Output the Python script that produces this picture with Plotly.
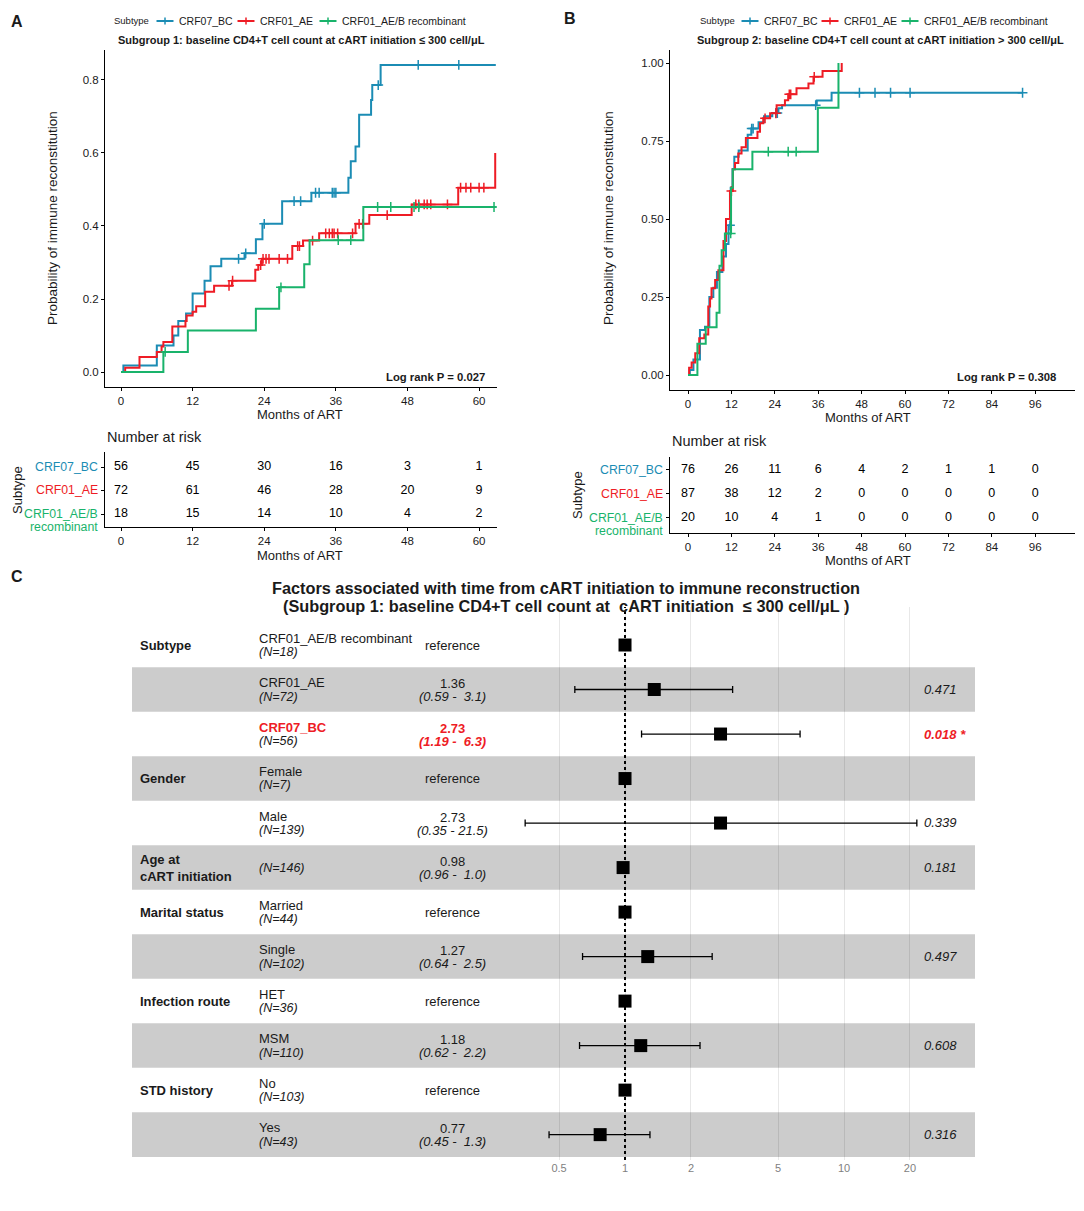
import numpy as np
import plotly.graph_objects as go

# the page adds an 8px body margin, so the figure is a bit smaller than the window
W, H = 1068, 1195
OFF = 8
FONT = 'Liberation Sans, Arial, sans-serif'
BLUE = '#1b8cb4'
RED = '#ee1c25'
GREEN = '#19b36b'

subtypes = ['CRF07_BC', 'CRF01_AE', 'CRF01_AE/B recombinant']
sub_colors = [BLUE, RED, GREEN]

# ---- panel A: subgroup 1 (<= 300 cells), cumulative probability
a_bc_t = [0, 0.4, 6.0, 8.8, 9.6, 10.9, 12.0, 14.0, 15.0, 16.8, 20.7, 22.6, 23.7, 27.0, 31.9,
          38.1, 38.5, 39.3, 39.9, 41.9, 42.1, 43.5, 62.8]
a_bc_p = [0, 0.018, 0.073, 0.10, 0.14, 0.16, 0.215, 0.25, 0.29, 0.31, 0.325, 0.364, 0.406, 0.468, 0.491,
          0.532, 0.577, 0.618, 0.705, 0.745, 0.786, 0.841, 0.841]
a_bc_cens = [19.7, 20.9, 24.0, 29.0, 30.1, 32.6, 33.2, 35.4, 35.7, 36.0, 43.1, 49.8, 56.6]

a_ae_t = [0, 0.7, 3.1, 6.0, 6.8, 7.1, 8.6, 10.8, 11.0, 12.0, 12.6, 14.1, 15.6, 18.6, 22.5, 23.0, 23.6,
          28.7, 30.5, 33.2, 39.3, 41.6, 48.7, 56.5, 62.7]
a_ae_p = [0, 0.012, 0.041, 0.055, 0.07, 0.082, 0.125, 0.14, 0.155, 0.165, 0.18, 0.22, 0.236, 0.25, 0.28,
          0.293, 0.31, 0.345, 0.36, 0.38, 0.406, 0.43, 0.459, 0.505, 0.60]
a_ae_cens = [18.1, 18.7, 23.4, 23.8, 24.3, 24.8, 26.5, 27.9, 29.6, 29.9, 32.1, 34.3, 34.9, 35.4, 35.7,
             36.3, 38.8, 39.9, 40.5, 44.6, 49.4, 49.9, 50.8, 51.3, 51.9, 54.7, 56.9, 57.8, 58.6, 60.0, 60.8]

a_aeb_t = [0, 7.1, 11.2, 22.6, 26.5, 30.7, 31.6, 40.6, 62.8]
a_aeb_p = [0, 0.055, 0.114, 0.173, 0.232, 0.295, 0.361, 0.452, 0.452]
a_aeb_cens = [7.4, 26.8, 36.4, 38.5, 43.0, 45.2, 49.1, 49.9, 62.5]

# ---- panel B: subgroup 2 (> 300 cells)
b_bc_t = [0, 0.5, 1.5, 3.3, 4.7, 5.9, 7.0, 8.0, 9.5, 10.5, 11.2, 11.8, 12.3, 12.8, 14.0, 16.5, 17.5,
          19.5, 21.0, 23.3, 25.0, 26.0, 35.6, 39.7, 92.5]
b_bc_p = [0, 0.016, 0.05, 0.144, 0.155, 0.25, 0.28, 0.33, 0.38, 0.42, 0.48, 0.60, 0.66, 0.70, 0.72, 0.77,
          0.79, 0.81, 0.83, 0.84, 0.855, 0.865, 0.88, 0.905, 0.905]
b_bc_cens = [11.6, 17.6, 18.0, 24.3, 24.7, 35.3, 47.4, 51.7, 56.0, 61.4, 92.5]

b_ae_t = [0, 0.3, 1.0, 2.0, 3.1, 4.5, 5.6, 6.1, 6.5, 7.5, 8.4, 9.8, 10.5, 11.6, 12.4, 13.0, 13.9, 14.8,
          16.0, 19.2, 19.9, 20.8, 22.7, 24.5, 26.8, 27.7, 30.0, 33.3, 34.7, 37.2, 42.5]
b_ae_p = [0, 0.023, 0.04, 0.07, 0.118, 0.13, 0.22, 0.245, 0.278, 0.305, 0.336, 0.43, 0.50, 0.59, 0.66,
          0.68, 0.71, 0.73, 0.76, 0.78, 0.807, 0.823, 0.839, 0.865, 0.881, 0.90, 0.919, 0.935, 0.956,
          0.975, 1.0]
b_ae_cens = [12.0, 21.3, 24.3, 28.0, 28.4, 34.9]

b_aeb_t = [0, 2.6, 4.9, 7.9, 8.7, 9.3, 10.2, 11.9, 12.4, 17.8, 35.9, 41.6]
b_aeb_p = [0, 0.10, 0.153, 0.20, 0.35, 0.40, 0.454, 0.60, 0.66, 0.716, 0.857, 1.0]
b_aeb_cens = [11.8, 22.2, 27.7, 29.9]

# ---- number at risk
a_risk_times = [0, 12, 24, 36, 48, 60]
a_risk = [[56, 45, 30, 16, 3, 1], [72, 61, 46, 28, 20, 9], [18, 15, 14, 10, 4, 2]]
b_risk_times = [0, 12, 24, 36, 48, 60, 72, 84, 96]
b_risk = [[76, 26, 11, 6, 4, 2, 1, 1, 0], [87, 38, 12, 2, 0, 0, 0, 0, 0], [20, 10, 4, 1, 0, 0, 0, 0, 0]]

# ---- forest plot (panel C)
fp_vars = ['Subtype', '', '', 'Gender', '', 'Age at<br>cART initiation', 'Marital status', '',
           'Infection route', '', 'STD history', '']
fp_levels = ['CRF01_AE/B recombinant', 'CRF01_AE', 'CRF07_BC', 'Female', 'Male', '', 'Married', 'Single',
             'HET', 'MSM', 'No', 'Yes']
fp_n = [18, 72, 56, 7, 139, 146, 44, 102, 36, 110, 103, 43]
fp_hr = [1, 1.36, 2.73, 1, 2.73, 0.98, 1, 1.27, 1, 1.18, 1, 0.77]
fp_lo = [None, 0.59, 1.19, None, 0.35, 0.96, None, 0.64, None, 0.62, None, 0.45]
fp_hi = [None, 3.1, 6.3, None, 21.5, 1.0, None, 2.5, None, 2.2, None, 1.3]
fp_p = ['', '0.471', '0.018 *', '', '0.339', '0.181', '', '0.497', '', '0.608', '', '0.316']
fp_ticks = [0.5, 1, 2, 5, 10, 20]


# page pixel -> paper coordinate
def px(x):
    return (x - OFF) / W


def py(y):
    return 1 - (y - OFF) / H


def at_time(ts, ps, cens):
    idx = np.searchsorted(np.array(ts), np.array(cens), side='right') - 1
    return list(np.array(ps)[idx])


fig = go.Figure()

curves = {
    'A': [(a_bc_t, a_bc_p, a_bc_cens), (a_ae_t, a_ae_p, a_ae_cens), (a_aeb_t, a_aeb_p, a_aeb_cens)],
    'B': [(b_bc_t, b_bc_p, b_bc_cens), (b_ae_t, b_ae_p, b_ae_cens), (b_aeb_t, b_aeb_p, b_aeb_cens)],
}
for panel, xa, ya in [('A', 'x', 'y'), ('B', 'x2', 'y2')]:
    for (t, p, c), name, col in zip(curves[panel], subtypes, sub_colors):
        fig.add_trace(go.Scatter(x=t, y=p, mode='lines', name=name, line=dict(color=col, width=2, shape='hv'),
                                 xaxis=xa, yaxis=ya, showlegend=False))
        fig.add_trace(go.Scatter(x=c, y=at_time(t, p, c), mode='markers', name=name,
                                 marker=dict(symbol='cross-thin', size=7, color=col,
                                             line=dict(width=1.5, color=col)),
                                 xaxis=xa, yaxis=ya, showlegend=False))

# risk tables
for times, risk, xa, ya in [(a_risk_times, a_risk, 'x3', 'y3'), (b_risk_times, b_risk, 'x4', 'y4')]:
    for i, row in enumerate(risk):
        fig.add_trace(go.Scatter(x=times, y=[3 - i] * len(times), mode='text', text=[str(v) for v in row],
                                 textfont=dict(size=12.5, color='black', family=FONT),
                                 xaxis=xa, yaxis=ya, showlegend=False, hoverinfo='skip'))

# forest plot marks
rows = list(range(1, len(fp_hr) + 1))
ci_rows = [r for r, lo in zip(rows, fp_lo) if lo is not None]
ci_hr = [h for h, lo in zip(fp_hr, fp_lo) if lo is not None]
ci_plus = [hi - h for h, lo, hi in zip(fp_hr, fp_lo, fp_hi) if lo is not None]
ci_minus = [h - lo for h, lo in zip(fp_hr, fp_lo) if lo is not None]
fig.add_trace(go.Scatter(x=ci_hr, y=ci_rows, mode='markers',
                         marker=dict(symbol='square', size=13, color='black'),
                         error_x=dict(type='data', symmetric=False, array=ci_plus, arrayminus=ci_minus,
                                      color='black', thickness=1.3, width=3.5),
                         xaxis='x5', yaxis='y5', showlegend=False))
ref_rows = [r for r, lo in zip(rows, fp_lo) if lo is None]
fig.add_trace(go.Scatter(x=[fp_hr[r - 1] for r in ref_rows], y=ref_rows, mode='markers',
                         marker=dict(symbol='square', size=13, color='black'),
                         xaxis='x5', yaxis='y5', showlegend=False))

shapes = []
for r in rows:
    if r % 2 == 0:
        shapes.append(dict(type='rect', xref='paper', yref='y5', x0=px(132), x1=px(975), y0=r - 0.5,
                           y1=r + 0.5, fillcolor='#cccccc', line=dict(width=0), layer='below'))
shapes.append(dict(type='line', xref='x5', yref='paper', x0=1, x1=1, y0=py(1160), y1=py(607),
                   line=dict(color='black', width=2, dash='dot')))

ann = []


def text(x, y, s, size=12, anchor='center', yanchor='middle', color='#1a1a1a', **kw):
    ann.append(dict(x=px(x), y=py(y), xref='paper', yref='paper', text=s, showarrow=False,
                    xanchor=anchor, yanchor=yanchor, font=dict(size=size, color=color, family=FONT), **kw))


# survminer-style legends on top of A and B (short line key with a cross)
for title_x, key_xs in [(112, [165, 246, 328]), (698, [750, 830, 910])]:
    text(title_x, 21, 'Subtype', 9.5, anchor='left')
    for kx, name, col in zip(key_xs, subtypes, sub_colors):
        shapes.append(dict(type='line', xref='paper', yref='paper', x0=px(kx - 8.5), x1=px(kx + 8.5),
                           y0=py(21), y1=py(21), line=dict(color=col, width=2)))
        shapes.append(dict(type='line', xref='paper', yref='paper', x0=px(kx), x1=px(kx),
                           y0=py(17.5), y1=py(24.5), line=dict(color=col, width=1.5)))
        text(kx + 12, 21, name, 10.5, anchor='left')

# panel letters and titles
text(17, 22, '<b>A</b>', 16)
text(570, 18, '<b>B</b>', 16)
text(17, 576, '<b>C</b>', 16)
text(301, 40, '<b>Subgroup 1: baseline CD4+T cell count at cART initiation ≤ 300 cell/μL</b>', 11)
text(880, 40, '<b>Subgroup 2: baseline CD4+T cell count at cART initiation > 300 cell/μL</b>', 11)
text(487, 377, '<b>Log rank P = 0.027</b>', 11.3, anchor='right')
text(1058, 377, '<b>Log rank P = 0.308</b>', 11.3, anchor='right')

# axis titles
text(52, 218, 'Probability of immune reconstitution', 13.5, textangle=-90)
text(608, 218, 'Probability of immune reconstitution', 13.5, textangle=-90)
text(300, 414, 'Months of ART', 13)
text(868, 417, 'Months of ART', 13)
text(300, 555, 'Months of ART', 13)
text(868, 560, 'Months of ART', 13)
text(105, 437, 'Number at risk', 14.5, anchor='left')
text(670, 441, 'Number at risk', 14.5, anchor='left')
text(18, 490, 'Subtype', 13, textangle=-90)
text(578, 495, 'Subtype', 13, textangle=-90)

# risk table row labels
for right, ys in [(100, [467, 490, 514]), (665, [470, 494, 518])]:
    text(right, ys[0], 'CRF07_BC', 12.3, anchor='right', color=BLUE)
    text(right, ys[1], 'CRF01_AE', 12.3, anchor='right', color=RED)
    text(right, ys[2], 'CRF01_AE/B', 12.3, anchor='right', color=GREEN)
    text(right, ys[2] + 13, 'recombinant', 12.3, anchor='right', color=GREEN)

# forest title
text(566, 588, '<b>Factors associated with time from cART initiation to immune reconstruction</b>', 16.3)
text(566, 606, '<b>(Subgroup 1: baseline CD4+T cell count at  cART initiation  ≤ 300 cell/μL )</b>', 16.3)

# forest text columns
for r in rows:
    i = r - 1
    yc = 645 + i * 44.5
    red = (i == 2)
    col = RED if red else '#1a1a1a'
    if fp_vars[i]:
        text(138, yc, '<b>' + fp_vars[i] + '</b>', 13, anchor='left', align='left')
    n_lab = '<i>(N=%d)</i>' % fp_n[i]
    if fp_levels[i]:
        lab = '<b>' + fp_levels[i] + '</b>' if red else fp_levels[i]
        text(257, yc - 7, lab, 13, anchor='left', color=col)
        text(257, yc + 7, n_lab, 12.5, anchor='left')
    else:
        text(257, yc, n_lab, 12.5, anchor='left')
    if fp_lo[i] is None:
        text(452, yc, 'reference', 13)
    else:
        hr_s = '%.2f' % fp_hr[i]
        ci_s = ('(%.2f - %4.1f)' % (fp_lo[i], fp_hi[i])).replace(' ', '\u00a0')
        if red:
            text(452, yc - 6, '<b>' + hr_s + '</b>', 13, color=RED)
            text(452, yc + 7, '<b><i>' + ci_s + '</i></b>', 13, color=RED)
        else:
            text(452, yc - 6, hr_s, 13)
            text(452, yc + 7, '<i>' + ci_s + '</i>', 13)
    if fp_p[i]:
        if red:
            text(922, yc, '<b><i>' + fp_p[i] + '</i></b>', 13, anchor='left', color=RED)
        else:
            text(922, yc, '<i>' + fp_p[i] + '</i>', 13, anchor='left')

km_axis = dict(showline=True, linecolor='black', linewidth=1.1, ticks='outside', ticklen=3, tickwidth=1.1,
               tickcolor='black', showgrid=False, zeroline=False,
               tickfont=dict(size=11.5, color='#1a1a1a', family=FONT))

fig.update_layout(
    width=W, height=H, margin=dict(l=0, r=0, t=0, b=0),
    paper_bgcolor='white', plot_bgcolor='rgba(0,0,0,0)',
    font=dict(family=FONT), showlegend=False,
    xaxis=dict(domain=[px(105), px(497)], range=[-2.68, 63.0], tickvals=a_risk_times, anchor='y', **km_axis),
    yaxis=dict(domain=[py(387), py(50)], range=[-0.041, 0.882], tickvals=[0, 0.2, 0.4, 0.6, 0.8],
               ticktext=['0.0', '0.2', '0.4', '0.6', '0.8'], anchor='x', **km_axis),
    xaxis2=dict(domain=[px(670), px(1075)], range=[-4.98, 107], tickvals=b_risk_times, anchor='y2', **km_axis),
    yaxis2=dict(domain=[py(390), py(50)], range=[-0.048, 1.042], tickvals=[0, 0.25, 0.5, 0.75, 1.0],
                ticktext=['0.00', '0.25', '0.50', '0.75', '1.00'], anchor='x2', **km_axis),
    xaxis3=dict(domain=[px(105), px(497)], range=[-2.68, 63.0], tickvals=a_risk_times, anchor='y3', **km_axis),
    yaxis3=dict(domain=[py(527), py(452)], range=[0.447, 3.64], tickvals=[1, 2, 3], showticklabels=False,
                anchor='x3', **km_axis),
    xaxis4=dict(domain=[px(670), px(1075)], range=[-4.98, 107], tickvals=b_risk_times, anchor='y4', **km_axis),
    yaxis4=dict(domain=[py(533), py(457)], range=[0.375, 3.54], tickvals=[1, 2, 3], showticklabels=False,
                anchor='x4', **km_axis),
    xaxis5=dict(domain=[px(132), px(975)], type='log', range=[-2.251, 1.598], tickvals=fp_ticks,
                ticktext=[str(v) for v in fp_ticks], showgrid=True, gridcolor='rgba(0,0,0,0.09)', gridwidth=1,
                showline=False, ticks='', zeroline=False, anchor='y5',
                tickfont=dict(size=11, color='#7f7f7f', family=FONT)),
    yaxis5=dict(domain=[py(1160), py(607)], range=[12.57, 0.146], visible=False, anchor='x5'),
    shapes=shapes,
    annotations=ann,
)

fig.write_html('out.html')
